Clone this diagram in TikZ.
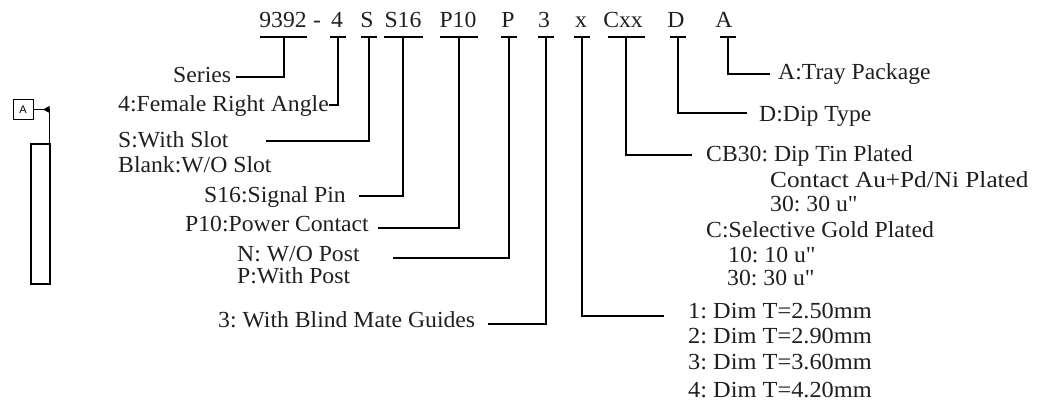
\documentclass[tikz,border=0pt]{standalone}
\usepackage{graphicx}
\usepackage{fontspec}
\setmainfont[FakeStretch=1.03]{Liberation Serif}
\newfontfamily\boxfont{Liberation Sans}
\newfontfamily\qfont[FakeStretch=1.03]{Liberation Serif}
\usetikzlibrary{arrows.meta}
\newcommand{\qmk}{{\qfont"}}
\frenchspacing
\tikzset{
  x=1pt,y=-1pt,
  txt/.style={anchor=base west,inner sep=0pt,font=\fontsize{23}{25}\selectfont,text=black!88},
  code/.style={anchor=base,inner sep=0pt,font=\fontsize{23}{25}\selectfont,text=black!88},
  conn/.style={line width=1.5pt,line join=miter},
  ubar/.style={line width=1.5pt},
}
\begin{document}
\begin{tikzpicture}
\frenchspacing
\useasboundingbox (0,0) rectangle (1056,406);
% left symbol
\draw[line width=1.3pt] (31,144) rectangle (50,284);
\node[draw,line width=.7pt,minimum width=20pt,minimum height=20pt,inner sep=0pt,font=\boxfont\fontsize{11}{12}\selectfont] (boxA) at (23,109.5) {A};
\coordinate (dtop) at (49.5,109.5);
\coordinate (dbot) at (49.5,144);
\draw[line width=.7pt] (boxA.east) -- (dtop);
\draw[line width=.7pt] (dtop) -- (dbot);
\fill (43,109.5) -- (49.5,106) -- (49.5,113) -- cycle;
% codes
\node[code] (c1) at (283,28) {9392};
\node[code] (dash) at (317,28) {-};
\node[code] (c2) at (337,28) {4};
\node[code] (c3) at (367,28) {S};
\node[code] (c4) at (403,28) {S16};
\node[code] (c5) at (458,28) {P10};
\node[code] (c6) at (508,28) {P};
\node[code] (c7) at (544,28) {3};
\node[code] (c8) at (581,28) {x};
\node[code] (c9) at (623,28) {Cxx};
\node[code] (c10) at (676,28) {D};
\node[code] (c11) at (724,28) {A};
% underlines
\foreach \n/\a/\b/\m in {1/260/307/284,2/330/346/338,3/361/377/369,4/384/423/403,5/440/478/459,6/501/517/509,7/538/554/546,8/574/590/582,9/608/645/626,10/670/686/678,11/720/736/728}{
  \coordinate (ua\n) at (\a,37);
  \coordinate (ub\n) at (\b,37);
  \coordinate (um\n) at (\m,37);
  \draw[ubar] (ua\n) -- (ub\n);
}
% labels
\node[txt] (l1) at (173,83) {Series};
\node[txt] (l2) at (118,112) {4:Female Right Angle};
\node[txt] (l3) at (118,148) {S:With Slot};
\node[txt] (l3b) at (118,172) {Blank:W/O Slot};
\node[txt] (l4) at (204,202) {S16:Signal Pin};
\node[txt] (l5) at (185,231) {P10:Power Contact};
\node[txt] (l6) at (237,261) {N: W/O Post};
\node[txt] (l6b) at (237,283) {P:With Post};
\node[txt] (l7) at (218,327) {3: With Blind Mate Guides};
\node[txt] (l8) at (688,318) {\scalebox{1.028}[1]{1: Dim T=2.50mm}};
\node[txt] (l8b) at (688,343) {\scalebox{1.028}[1]{2: Dim T=2.90mm}};
\node[txt] (l8c) at (688,369) {\scalebox{1.028}[1]{3: Dim T=3.60mm}};
\node[txt] (l8d) at (688,397) {\scalebox{1.028}[1]{4: Dim T=4.20mm}};
\node[txt] (l9) at (706,161) {CB30: Dip Tin Plated};
\node[txt] (l9b) at (770,187) {\scalebox{1.066}[1]{Contact Au+Pd/Ni Plated}};
\node[txt] (l9c) at (770,211) {30: 30 u\qmk};
\node[txt] (l9d) at (706,237) {C:Selective Gold Plated};
\node[txt] (l9e) at (728,262) {10: 10 u\qmk};
\node[txt] (l9f) at (727,285) {30: 30 u\qmk};
\node[txt] (l10) at (759,122) {D:Dip Type};
\node[txt] (l11) at (778,80) {A:Tray Package};
% connector free ends
\foreach \n/\x/\y in {1/236/77,2/329/105,3/266/141,4/359/196,5/378/228,6/393/258,7/488/324,8/664/316,9/692/155,10/747/113,11/770/74}{
  \coordinate (e\n) at (\x,\y);
  \draw[conn] (um\n) |- (e\n);
}
\end{tikzpicture}
\end{document}
